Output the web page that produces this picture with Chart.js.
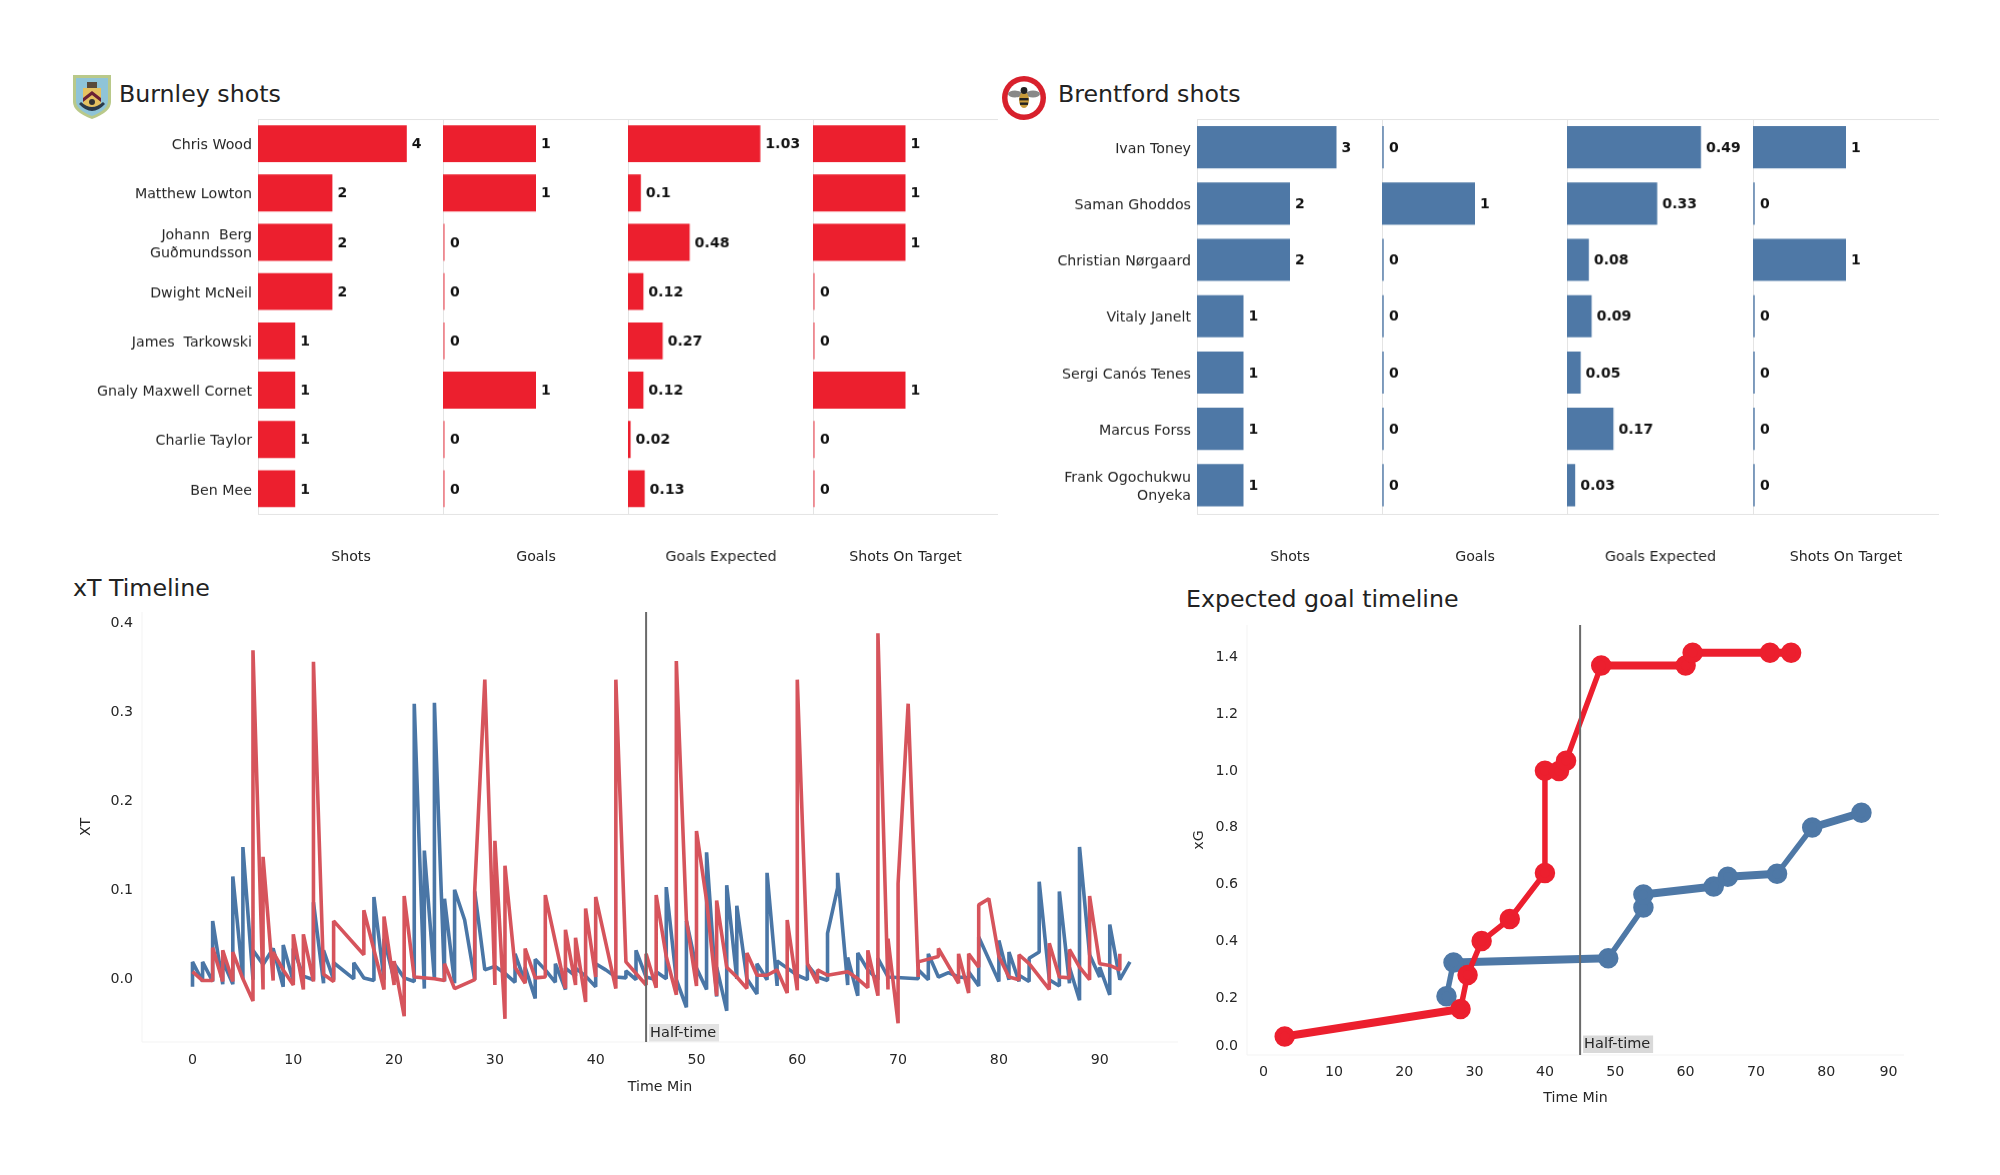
<!DOCTYPE html>
<html><head><meta charset="utf-8">
<script src="https://cdn.jsdelivr.net/npm/chart.js@4"></script>
<style>
html,body{margin:0;padding:0;background:#fff;width:2000px;height:1175px;overflow:hidden;font-family:"DejaVu Sans",sans-serif}
canvas{position:absolute;display:block}
.t{position:absolute;color:#222;font-size:23.7px;line-height:28px;white-space:nowrap}
svg{position:absolute}
</style></head><body>
<svg style="left:72px;top:74px" width="40" height="46" viewBox="0 0 40 46">
<path d="M1 1H39V28Q39 38 20 45Q1 38 1 28Z" fill="#b9c98a"/>
<path d="M4 4H36V27Q36 36 20 42Q4 36 4 27Z" fill="#8fc4d8"/>
<path d="M11 14H29V28Q29 33 20 36Q11 33 11 28Z" fill="#e5c160"/>
<path d="M11 24L20 17L29 24V28L20 21L11 28Z" fill="#6b2035"/>
<rect x="15" y="8" width="10" height="6" fill="#5a4a3a"/>
<path d="M7 30Q20 44 33 30L31 28Q20 38 9 28Z" fill="#2b3a4a"/>
<circle cx="20" cy="28" r="3" fill="#333"/>
</svg>
<svg style="left:1002px;top:76px" width="44" height="44" viewBox="0 0 44 44">
<circle cx="22" cy="22" r="22" fill="#d8202c"/>
<circle cx="22" cy="22" r="16.5" fill="#fff"/>
<ellipse cx="13" cy="18" rx="7" ry="3.4" fill="#888"/><ellipse cx="31" cy="18" rx="7" ry="3.4" fill="#888"/>
<ellipse cx="22" cy="24" rx="5" ry="8" fill="#c79a3a"/>
<rect x="17.5" y="22" width="9" height="2.4" fill="#222"/><rect x="18" y="26.5" width="8" height="2.4" fill="#222"/>
<circle cx="22" cy="14.5" r="3.4" fill="#222"/>
</svg>
<div class="t" style="left:119px;top:80px">Burnley shots</div>
<div class="t" style="left:1058px;top:80px">Brentford shots</div>
<div class="t" style="left:73px;top:574px">xT Timeline</div>
<div class="t" style="left:1186px;top:585px">Expected goal timeline</div>
<script>
// ---------- data ----------
const metrics = ['Shots','Goals','Goals Expected','Shots On Target'];
const burnleyPlayers = ['Chris Wood','Matthew Lowton',['Johann  Berg','Guðmundsson'],'Dwight McNeil','James  Tarkowski','Gnaly Maxwell Cornet','Charlie Taylor','Ben Mee'];
const burnleyShots = [4,2,2,2,1,1,1,1];
const burnleyGoals = [1,1,0,0,0,1,0,0];
const burnleyXg = [1.03,0.1,0.48,0.12,0.27,0.12,0.02,0.13];
const burnleyOnTarget = [1,1,1,0,0,1,0,0];
const burnleyMax = [5,2,1.448,2];
const brentfordPlayers = ['Ivan Toney','Saman Ghoddos','Christian Nørgaard','Vitaly Janelt','Sergi Canós Tenes','Marcus Forss',['Frank Ogochukwu','Onyeka']];
const brentfordShots = [3,2,2,1,1,1,1];
const brentfordGoals = [0,1,0,0,0,0,0];
const brentfordXg = [0.49,0.33,0.08,0.09,0.05,0.17,0.03];
const brentfordOnTarget = [1,0,1,0,0,0,0];
const brentfordMax = [4,2,0.684,2];

const xtBurnleyMin = [0,1,2,2,3,3,4,4,5,6,6,7,7,8,8,9,10,10,11,11,12,12,13,14,14,17,17,19,19,20,20,21,21,22,24,25,25,26,28,28,29,30,30,31,31,32,33,33,34,35,35,37,37,38,38,39,39,40,40,42,42,43,45,45,46,46,47,48,48,49,50,50,51,52,52,53,54,55,55,56,57,58,59,59,60,60,61,62,62,63,65,66,67,67,68,68,69,69,70,70,71,72,72,74,74,76,76,77,77,78,78,79,80,81,82,82,83,85,85,86,87,87,88,89,89,90,91,92,92];
const xtBurnleyVal = [.008,-.002,-.002,.035,-.003,.032,-.003,.03,0,-.025,.369,-.012,.137,-.002,.03,.01,-.007,.05,-.012,.05,-.003,.356,.005,-.003,.065,.027,.077,-.012,.07,-.007,.02,-.042,.093,.002,0,-.002,.017,-.011,-.001,.1,.336,-.007,.155,-.045,.127,.013,-.005,.034,.001,.002,.094,-.011,.055,-.007,.046,-.026,.079,.002,.092,-.011,.336,.019,-.007,.028,-.01,.094,.025,-.018,.357,.066,-.008,.166,.088,-.019,.088,.013,.002,-.011,.029,.004,.004,.01,-.016,.066,-.013,.336,.017,-.005,.01,.004,.008,0,-.01,.032,-.019,.388,-.012,.045,-.05,.107,.309,.002,.019,.025,.034,-.005,.028,-.016,.028,.013,.083,.09,.025,.002,-.001,.027,.017,-.012,.04,.002,.001,.033,.013,-.001,.093,.017,.015,.01,.028];
const xtBrentfordMin = [0,0,1,1,2,2,3,3,4,4,5,5,6,6,7,8,9,9,10,10,11,12,12,13,13,14,14,16,16,17,18,18,19,19,20,20,21,22,22,23,23,24,24,25,25,26,26,27,28,28,29,30,31,32,32,33,33,34,34,35,36,36,37,37,38,38,39,40,40,41,42,43,43,44,44,45,46,46,47,47,48,49,49,50,51,51,52,52,53,53,54,54,55,56,56,57,57,58,58,59,60,61,61,62,63,63,64,64,65,65,66,66,67,68,68,69,72,72,73,73,74,75,76,77,77,78,78,80,80,81,81,82,82,83,83,84,84,85,86,86,87,87,88,88,89,90,90,91,91,92,93];
const xtBrentfordVal = [-.009,.019,-.003,.019,-.003,.065,-.006,.02,-.006,.115,0,.148,-.001,.032,.016,.034,-.009,.038,-.003,.034,.003,-.001,.086,-.005,.032,-.001,.018,0,.018,.001,-.002,.092,-.001,.045,-.001,.017,.001,-.003,.309,-.011,.144,0,.31,-.003,.09,-.005,.1,.066,-.001,.098,.01,.014,.006,-.004,.028,-.004,.013,-.022,.022,.01,-.004,.017,-.012,.012,.003,.012,.003,-.009,.017,.01,.002,.001,.009,-.001,.032,.002,-.001,.008,0,.103,-.001,-.032,.065,.012,-.012,.142,-.02,.013,-.036,.105,0,.082,0,-.017,.017,-.001,.119,-.008,.02,.012,.004,-.001,.016,.002,-.002,.051,.102,.119,-.007,.024,-.019,.029,.01,-.001,.023,.002,0,.01,-.001,.028,.002,.007,.002,.001,.008,-.008,.047,-.003,.043,-.001,.03,-.003,.004,-.003,.023,.03,.109,-.001,-.008,.098,-.005,.013,-.024,.148,.027,.002,.013,-.018,.061,-.001,.019];

const xgBurnleyMin = [3,28,29,31,35,40,40,42,43,48,60,61,72,75];
const xgBurnleyVal = [.065,.162,.282,.401,.479,.641,1.001,1.0,1.036,1.371,1.371,1.416,1.416,1.416];
const xgBrentfordMin = [26,27,49,54,54,64,66,73,78,85];
const xgBrentfordVal = [.207,.326,.341,.519,.565,.593,.628,.638,.801,.853];

const xtXTicks = [0,10,20,30,40,50,60,70,80,90];
const xtYTicks = [0,.1,.2,.3,.4];
const xgXTicks = [0,10,20,30,40,50,60,70,80,88.85];
const xgYTicks = [.03,.2,.4,.6,.8,1,1.2,1.4];
const halfTime = 45;
const RED='#ec1f2e', BLUE='#4e78a6', LINE_RED='#d6545c', LINE_BLUE='#4a76a6', INK='#262626';
const RED_FAINT='rgba(236,31,46,.45)', BLUE_FAINT='rgba(78,120,166,.7)';
const FS=14.2, FONT='"DejaVu Sans"';

// ---------- helpers ----------
function mk(rect,cfg){
  const c=document.createElement('canvas');
  c.style.left=rect.l+'px';c.style.top=rect.t+'px';
  c.width=rect.w;c.height=rect.h;c.style.width=rect.w+'px';c.style.height=rect.h+'px';
  document.body.appendChild(c);
  cfg.options=Object.assign({responsive:false,animation:false,devicePixelRatio:1,layout:{padding:0,autoPadding:false}},cfg.options);
  return new Chart(c.getContext('2d'),cfg);
}
function noPad(s){s.paddingTop=0;s.paddingBottom=0;s.paddingLeft=0;s.paddingRight=0;}
const valueLabels={id:'valueLabels',afterDatasetsDraw(ch){
  const {ctx,scales:{x,y}}=ch;ctx.save();
  ctx.font='bold 14px '+FONT;ctx.fillStyle='#111';ctx.textBaseline='middle';ctx.textAlign='left';
  ch.data.datasets[0].data.forEach((v,i)=>{
    ctx.fillText(String(v),x.getPixelForValue(v)+(v===0?7:5),y.getPixelForValue(i)+1);
  });ctx.restore();
}};
const frame={id:'frame',beforeDraw(ch,a,o){
  const {ctx,chartArea:r}=ch;ctx.save();ctx.strokeStyle=o.color||'#e4e4e4';ctx.lineWidth=1;
  if(o.open){ctx.beginPath();ctx.moveTo(r.left,r.top);ctx.lineTo(r.left,r.bottom);ctx.lineTo(r.right,r.bottom);ctx.stroke();}
  else ctx.strokeRect(Math.round(r.left)+.5,Math.round(r.top)+.5,Math.round(r.right-r.left),Math.round(r.bottom-r.top));
  ctx.restore();
}};
const halfLine={id:'halfLine',afterDatasetsDraw(ch,a,o){
  const {ctx,chartArea:r,scales:{x}}=ch,px=x.getPixelForValue(halfTime);ctx.save();
  ctx.strokeStyle='#6a6a6a';ctx.lineWidth=2;ctx.beginPath();ctx.moveTo(px,r.top);ctx.lineTo(px,r.bottom);ctx.stroke();
  ctx.fillStyle=o.bg;ctx.fillRect(px+3,r.bottom-o.up-17.5,70,17.5);
  ctx.fillStyle=INK;ctx.font='14.5px '+FONT;ctx.textBaseline='middle';ctx.textAlign='left';
  ctx.fillText('Half-time',px+4,r.bottom-o.up-8.5);ctx.restore();
}};

const barCanvasBottom=565.5;
function panel(l,w,top,bottom,labels,vals,max,color,faint,title,withLabels){
  const labelW=withLabels?198:0;
  mk({l:l-labelW,t:top,w:w+labelW+1,h:barCanvasBottom-top},{
    type:'bar',
    data:{labels,datasets:[{data:vals,backgroundColor:vals.map(v=>v===0?faint:color),barPercentage:.75,categoryPercentage:1,minBarLength:2,borderSkipped:false}]},
    plugins:[valueLabels,frame],
    options:{indexAxis:'y',plugins:{legend:{display:false},tooltip:{enabled:false},frame:{}},
      scales:{
        x:{min:0,max,grid:{display:false,drawTicks:false},border:{display:false},ticks:{display:false},
           afterFit(s){s.height=barCanvasBottom-bottom;noPad(s);},
           title:{display:true,text:title,color:INK,font:{family:FONT,size:FS},padding:0}},
        y:{display:withLabels,grid:{display:false,drawTicks:false},border:{display:false},
           afterFit(s){s.width=labelW;noPad(s);},
           ticks:{color:INK,padding:6,labelOffset:2,autoSkip:false,font:{family:FONT,size:FS,lineHeight:1.27}}}
      }}
  });
}
const bt=119,bb=513;
[[258,185],[443,185],[628,184.5],[812.5,184.5]].forEach((p,i)=>panel(p[0],p[1],bt,bb,burnleyPlayers,[burnleyShots,burnleyGoals,burnleyXg,burnleyOnTarget][i],burnleyMax[i],RED,RED_FAINT,metrics[i],i===0));
[[1196.5,185.5],[1382,185],[1567,185.5],[1752.5,185]].forEach((p,i)=>panel(p[0],p[1],bt,bb,brentfordPlayers,[brentfordShots,brentfordGoals,brentfordXg,brentfordOnTarget][i],brentfordMax[i],BLUE,BLUE_FAINT,metrics[i],i===0));

function pts(m,v){return m.map((x,i)=>({x,y:v[i]}));}
function axes(xmin,xmax,ymin,ymax,xTicks,yTicks,xTitle,yTitle,leftW,botH,xPad,yFmt,xFmt,yOffset){
  const tf={family:FONT,size:FS};
  return {
    x:{type:'linear',min:xmin,max:xmax,grid:{display:false,drawTicks:false},border:{display:false},
       afterBuildTicks(s){s.ticks=xTicks.map(value=>({value}));},
       afterFit(s){s.height=botH;noPad(s);},
       ticks:{color:INK,padding:xPad,maxRotation:0,autoSkip:false,font:tf,callback:xFmt},
       title:{display:true,text:xTitle,color:INK,font:tf,padding:0}},
    y:{type:'linear',min:ymin,max:ymax,grid:{display:false,drawTicks:false},border:{display:false},
       afterBuildTicks(s){s.ticks=yTicks.map(value=>({value}));},
       afterFit(s){s.width=leftW;noPad(s);},
       ticks:{color:INK,padding:9,labelOffset:yOffset,autoSkip:false,font:tf,callback:yFmt},
       title:{display:true,text:yTitle,color:INK,font:tf,padding:0}}
  };
}
function flatWide(ctx){
  const a=ctx.p0,b=ctx.p1;
  return Math.abs(b.y-a.y)<Math.abs(b.x-a.x)*.6?8:5.5;
}
// xT timeline
mk({l:78,t:612,w:1100,h:484},{
  type:'line',
  data:{datasets:[
    {data:pts(xtBurnleyMin,xtBurnleyVal),borderColor:LINE_RED,borderWidth:3.6,pointRadius:0,tension:0,borderJoinStyle:'bevel'},
    {data:pts(xtBrentfordMin,xtBrentfordVal),borderColor:LINE_BLUE,borderWidth:3.6,pointRadius:0,tension:0,borderJoinStyle:'bevel'}
  ]},
  plugins:[frame,halfLine],
  options:{plugins:{legend:{display:false},tooltip:{enabled:false},frame:{open:true,color:'#f3f3f3'},halfLine:{bg:'#e3e3e3',up:0.5}},
    scales:axes(-5.01,97.77,-.071,.412,xtXTicks,xtYTicks,'Time Min','XT',64,54,10,v=>v.toFixed(1),v=>String(v),1)}
});
// xG timeline
mk({l:1191,t:625,w:713,h:482},{
  type:'line',
  data:{datasets:[
    {data:pts(xgBurnleyMin,xgBurnleyVal),borderColor:RED,backgroundColor:RED,borderWidth:5.5,segment:{borderWidth:flatWide},pointRadius:7.5,tension:0},
    {data:pts(xgBrentfordMin,xgBrentfordVal),borderColor:BLUE,backgroundColor:BLUE,borderWidth:5.5,segment:{borderWidth:flatWide},pointRadius:7.5,tension:0}
  ]},
  plugins:[frame,halfLine],
  options:{plugins:{legend:{display:false},tooltip:{enabled:false},frame:{open:true,color:'#f3f3f3'},halfLine:{bg:'#d9d9d9',up:2}},
    scales:axes(-2.36,91.05,0,1.514,xgXTicks,xgYTicks,'Time Min','xG',56,52,9,
      v=>(Math.round(v*5)/5).toFixed(1),v=>String(Math.round(v/10)*10),0)}
});
</script>
</body></html>
